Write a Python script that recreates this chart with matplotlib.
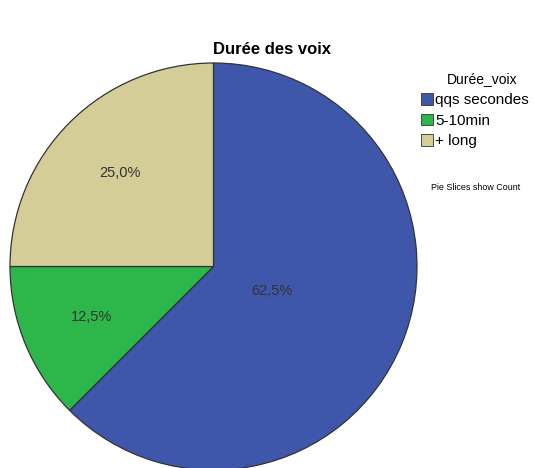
import numpy as np
import matplotlib.pyplot as plt
from matplotlib.patches import Patch

# Data
categories = ['qqs secondes', '5-10min', '+ long']
counts = [5, 1, 2]
colors = ['#3e57ab', '#2db74a', '#d4cd98']
label_dist = [0.31, 0.65, 0.65]

plt.rcParams['font.family'] = ['Liberation Sans', 'DejaVu Sans']

fig = plt.figure(figsize=(5.34, 4.68), dpi=100)
ax = fig.add_axes([0, 0, 1, 1])

wedges, texts, autotexts = ax.pie(
    counts, colors=colors, startangle=90, counterclock=False,
    center=(213.5, 201.5), radius=203.5, frame=True,
    autopct=lambda p: ('%.1f%%' % p).replace('.', ','),
    pctdistance=0.65,
    wedgeprops=dict(edgecolor='#333333', linewidth=0.9),
    textprops=dict(fontsize=10.5, color='#333333'))
ax.set_xlim(0, 534)
ax.set_ylim(0, 468)
ax.set_aspect('equal')
ax.axis('off')

# move each percentage label along its wedge's middle direction
for w, t, d in zip(wedges, autotexts, label_dist):
    ang = np.deg2rad((w.theta1 + w.theta2) / 2)
    cx, cy = w.center
    t.set_position((cx + d * w.r * np.cos(ang), cy + d * w.r * np.sin(ang)))

ax.text(272, 418, 'Durée des voix', ha='center', va='center',
        fontsize=12, fontweight='bold')

handles = [Patch(facecolor=c, edgecolor='#333333', linewidth=0.6) for c in colors]
fig.text(482 / 534, 1 - 79 / 468, 'Durée_voix', ha='center', va='center',
         fontsize=10)
leg = fig.legend(handles, categories, loc='upper left',
                 bbox_to_anchor=(421 / 534, 1 - 93 / 468), frameon=False,
                 fontsize=11, handlelength=0.79, handleheight=0.79,
                 handletextpad=0.12, labelspacing=0.42, borderpad=0,
                 borderaxespad=0)
fig.text(476 / 534, 1 - 188 / 468, 'Pie Slices show Count', ha='center',
         va='center', fontsize=6.4)

fig.savefig('out.png', dpi=100)
